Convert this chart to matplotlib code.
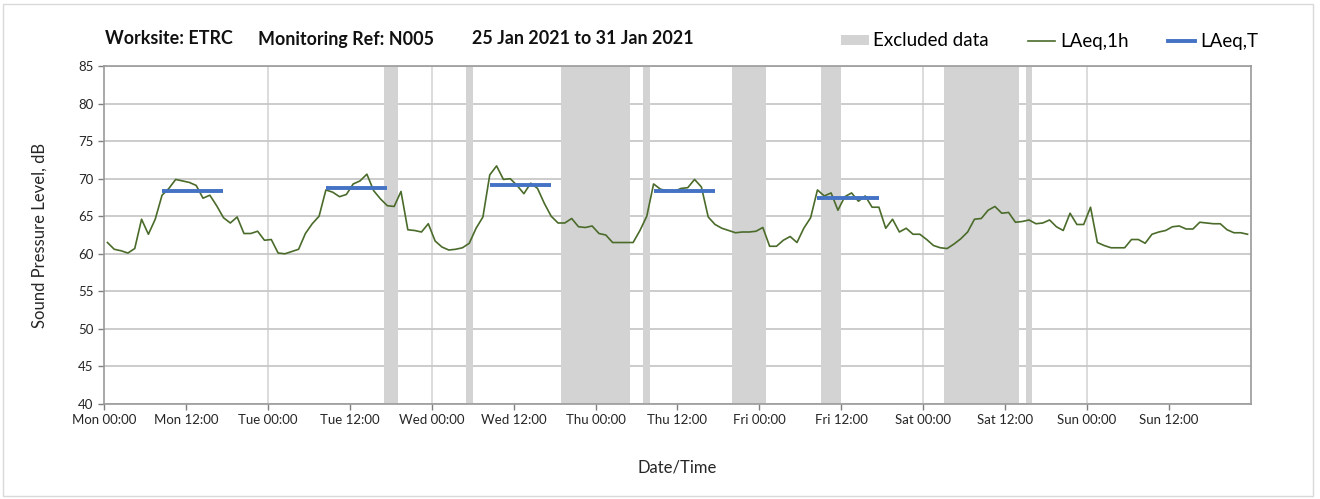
import numpy as np
import matplotlib
matplotlib.use("Agg")
import matplotlib.pyplot as plt
from matplotlib.patches import Patch, Rectangle
from matplotlib.lines import Line2D

plt.rcParams['font.family'] = ['Lato', 'DejaVu Sans']

# hourly LAeq,1h values, Mon 00:00 .. Sun 23:00
laeq_1h = [
    61.5, 60.6, 60.4, 60.1, 60.7, 64.6, 62.6, 64.6, 67.8, 68.7, 69.9, 69.7,
    69.5, 69.1, 67.4, 67.8, 66.4, 64.8, 64.1, 64.9, 62.7, 62.7, 63.0, 61.8,
    61.9, 60.1, 60.0, 60.3, 60.6, 62.7, 64.0, 65.0, 68.5, 68.2, 67.6, 67.9,
    69.3, 69.7, 70.6, 68.4, 67.3, 66.4, 66.3, 68.3, 63.2, 63.1, 62.9, 64.0,
    61.7, 60.9, 60.5, 60.6, 60.8, 61.4, 63.4, 64.9, 70.5, 71.7, 69.9, 70.0,
    69.1, 68.0, 69.4, 68.7, 66.7, 65.0, 64.1, 64.1, 64.7, 63.6, 63.5, 63.7,
    62.7, 62.5, 61.5, 61.5, 61.5, 61.5, 63.1, 65.0, 69.3, 68.6, 68.4, 68.3,
    68.7, 68.8, 69.9, 68.9, 64.9, 63.9, 63.4, 63.1, 62.8, 62.9, 62.9, 63.0,
    63.5, 61.0, 61.0, 61.8, 62.3, 61.5, 63.4, 64.8, 68.5, 67.7, 68.1, 65.8,
    67.6, 68.1, 67.0, 67.7, 66.2, 66.2, 63.4, 64.6, 62.9, 63.4, 62.6, 62.6,
    61.9, 61.1, 60.8, 60.7, 61.3, 62.0, 62.9, 64.6, 64.7, 65.8, 66.3, 65.4,
    65.5, 64.2, 64.3, 64.5, 64.0, 64.1, 64.5, 63.6, 63.1, 65.4, 63.9, 63.9,
    66.2, 61.5, 61.1, 60.8, 60.8, 60.8, 61.9, 61.9, 61.4, 62.6, 62.9, 63.1,
    63.6, 63.7, 63.3, 63.3, 64.2, 64.1, 64.0, 64.0, 63.2, 62.8, 62.8, 62.6,
]

# LAeq,T periods (hours from Mon 00:00)
period_start = [8, 32, 56, 80, 104]
period_end = [18, 42, 66, 90, 114]
laeq_t = [68.4, 68.7, 69.2, 68.3, 67.4]

# excluded periods (hours)
excl_start = [41, 53, 67, 79, 92, 105, 123, 135]
excl_end = [43, 54, 77, 80, 97, 108, 134, 136]

days = ['Mon', 'Tue', 'Wed', 'Thu', 'Fri', 'Sat', 'Sun']
tick_labels = []
for d in days:
    tick_labels += [d + ' 00:00', d + ' 12:00']

title_parts = ['Worksite: ETRC', 'Monitoring Ref: N005', '25 Jan 2021 to 31 Jan 2021']

hours = np.arange(len(laeq_1h)) + 0.5

fig = plt.figure(figsize=(13.2, 4.99), dpi=100)
ax = fig.add_axes([0.0788, 0.1904, 0.8689, 0.6773])

for s, e in zip(excl_start, excl_end):
    ax.axvspan(s, e, color='#d3d3d3', lw=0, zorder=1)

for d in range(1, 7):
    ax.axvline(d * 24, color='#d9d9d9', lw=1.3, zorder=0.5)
ax.yaxis.grid(True, color='#c8c8c8', lw=1.3, zorder=0.5)
ax.set_axisbelow(True)

ax.plot(hours, laeq_1h, color='#4a6b2a', lw=1.2, zorder=3)
for s, e, v in zip(period_start, period_end, laeq_t):
    ax.plot([s + 0.5, e - 0.5], [v, v], color='#4472c4', lw=2.8, zorder=4,
             solid_capstyle='butt')

ax.set_xlim(0, 168)
ax.set_ylim(40, 85)
ax.set_xticks(np.arange(0, 168, 12))
ax.set_xticklabels(tick_labels)
ax.set_yticks(np.arange(40, 86, 5))
ax.tick_params(axis='both', labelsize=9.5, colors='#7f7f7f', labelcolor='#262626',
               length=4, width=1)
for sp in ax.spines.values():
    sp.set_color('#9a9a9a')
    sp.set_linewidth(1.2)

ax.set_ylabel('Sound Pressure Level, dB', fontsize=12, color='#262626', labelpad=22)
ax.set_xlabel('Date/Time', fontsize=12, color='#262626', labelpad=24)

for xp, txt in zip([105, 258, 472], title_parts):
    fig.text(xp / 1320, 1 - 39 / 499, txt, fontsize=12.9, fontweight='bold',
             va='center', ha='left', color='#111111')

handles = [Patch(facecolor='#d3d3d3', edgecolor='none'),
           Line2D([0], [0], color='#4a6b2a', lw=1.2),
           Line2D([0], [0], color='#4472c4', lw=2.8)]
fig.legend(handles, ['Excluded data', 'LAeq,1h', 'LAeq,T'], ncol=3,
           loc='center right', bbox_to_anchor=(1258 / 1320, 1 - 41 / 499),
           frameon=False, fontsize=13.5, handlelength=1.45, handleheight=0.5,
           columnspacing=2.1, handletextpad=0.25, borderpad=0, borderaxespad=0)

fig.add_artist(Rectangle((3 / 1320, 3 / 499), 1 - 10 / 1320, 1 - 7 / 499,
                         transform=fig.transFigure, fill=False,
                         edgecolor='#d9d9d9', lw=1))

fig.savefig('out.png', dpi=100)
